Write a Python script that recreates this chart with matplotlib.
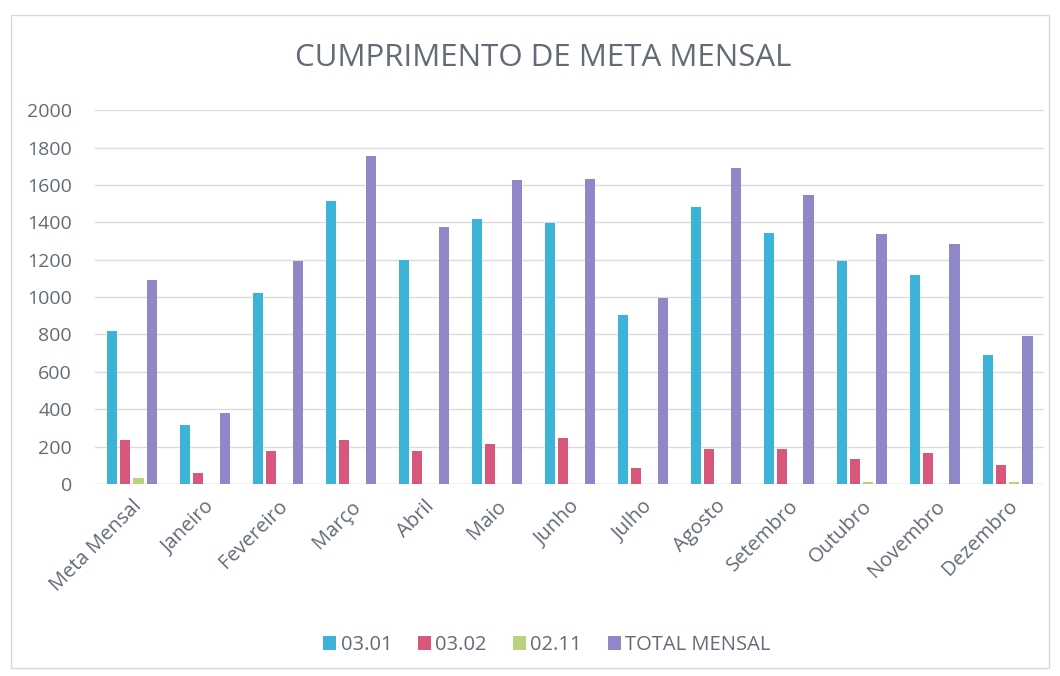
import matplotlib
matplotlib.use("Agg")
import matplotlib.pyplot as plt
import numpy as np
from matplotlib.patches import Rectangle

categories = ["Meta Mensal", "Janeiro", "Fevereiro", "Março", "Abril", "Maio", "Junho",
              "Julho", "Agosto", "Setembro", "Outubro", "Novembro", "Dezembro"]
s_0301 = [820, 317, 1020, 1515, 1200, 1417, 1395, 905, 1484, 1345, 1195, 1120, 690]
s_0302 = [235, 61, 174, 238, 174, 212, 247, 85, 190, 189, 135, 165, 100]
s_0211 = [30, 0, 0, 0, 0, 0, 0, 0, 0, 0, 10, 0, 10]
s_total = [1090, 380, 1195, 1755, 1373, 1627, 1630, 995, 1689, 1545, 1340, 1283, 790]
series_names = ["03.01", "03.02", "02.11", "TOTAL MENSAL"]
colors = ["#3db3d8", "#d8587c", "#b8d27e", "#8f88c8"]
yticks = [0, 200, 400, 600, 800, 1000, 1200, 1400, 1600, 1800, 2000]

plt.rcParams['font.family'] = ['Open Sans', 'DejaVu Sans']
text_color = "#626b76"

fig = plt.figure(figsize=(10.6, 6.76), dpi=100)
fig.patch.set_facecolor("white")
ax = fig.add_axes([0.090, 0.284, 0.895, 0.553])

x = np.arange(len(categories))
slot = 0.182
bw = 0.14
all_series = [s_0301, s_0302, s_0211, s_total]
for i, (vals, name, c) in enumerate(zip(all_series, series_names, colors)):
    offs = (i - 1.5) * slot
    ax.bar(x + offs, vals, width=bw, color=c, label=name, zorder=3)

ax.set_xlim(-0.5, len(categories) - 0.5)
ax.set_ylim(0, 2000)
ax.set_yticks(yticks)
ax.set_yticklabels([str(v) for v in yticks])
ax.grid(axis='y', color="#dcdcdc", linewidth=1.0, zorder=0)
ax.set_axisbelow(True)
for sp in ax.spines.values():
    sp.set_visible(False)
ax.axhline(0, color="#d5d5d5", linewidth=1.0, zorder=2)
ax.tick_params(axis='y', length=0, pad=17, labelsize=14, labelcolor=text_color)
ax.tick_params(axis='x', length=0, pad=9, labelsize=14.5, labelcolor=text_color)
ax.set_xticks(x)
ax.set_xticklabels(categories, rotation=45, ha='right', rotation_mode='anchor')

fig.text(0.512, 0.914, "CUMPRIMENTO DE META MENSAL", ha='center', va='center',
         fontsize=22.5, color=text_color)

leg = fig.legend(loc='center', bbox_to_anchor=(0.516, 0.046), ncol=4, frameon=False,
                 fontsize=14.5, labelcolor=text_color, handlelength=0.65, handleheight=0.65,
                 handletextpad=0.2, columnspacing=1.3)

fig.patches.append(Rectangle((0.010, 0.012), 0.980, 0.966, transform=fig.transFigure,
                             fill=False, edgecolor="#d8d8d8", linewidth=1.0))

fig.savefig("out.png", dpi=100)
